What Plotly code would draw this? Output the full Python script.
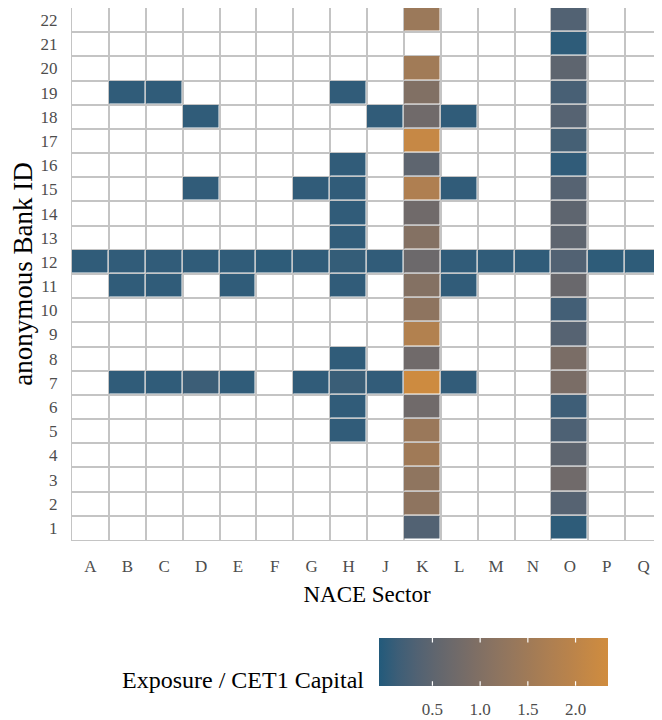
import plotly.graph_objects as go

# NACE sectors (columns) and anonymised bank ids (rows)
sectors = ["A", "B", "C", "D", "E", "F", "G", "H", "J", "K", "L", "M", "N", "O", "P", "Q"]
banks = [str(i) for i in range(1, 23)]

# exposure / CET1 capital, one list per bank (None = no exposure)
#          A     B     C     D     E     F     G     H     J     K     L     M     N     O     P     Q
bank_1 = [None, None, None, None, None, None, None, None, None, 0.35, None, None, None, 0.03, None, None]
bank_2 = [None, None, None, None, None, None, None, None, None, 1.20, None, None, None, 0.40, None, None]
bank_3 = [None, None, None, None, None, None, None, None, None, 1.22, None, None, None, 0.75, None, None]
bank_4 = [None, None, None, None, None, None, None, None, None, 1.50, None, None, None, 0.50, None, None]
bank_5 = [None, None, None, None, None, None, None, 0.05, None, 1.40, None, None, None, 0.30, None, None]
bank_6 = [None, None, None, None, None, None, None, 0.05, None, 0.75, None, None, None, 0.15, None, None]
bank_7 = [None, 0.04, 0.04, 0.13, 0.04, None, 0.05, 0.12, 0.06, 2.28, 0.06, None, None, 0.90, None, None]
bank_8 = [None, None, None, None, None, None, None, 0.04, None, 0.75, None, None, None, 0.90, None, None]
bank_9 = [None, None, None, None, None, None, None, None, None, 1.82, None, None, None, 0.40, None, None]
bank_10 = [None, None, None, None, None, None, None, None, None, 1.20, None, None, None, 0.20, None, None]
bank_11 = [None, 0.04, 0.04, None, 0.04, None, None, 0.05, None, 1.05, 0.05, None, None, 0.65, None, None]
bank_12 = [0.04, 0.05, 0.05, 0.04, 0.04, 0.03, 0.04, 0.07, 0.05, 0.70, 0.05, 0.04, 0.04, 0.35, 0.03, 0.03]
bank_13 = [None, None, None, None, None, None, None, 0.05, None, 1.05, None, None, None, 0.50, None, None]
bank_14 = [None, None, None, None, None, None, None, 0.05, None, 0.75, None, None, None, 0.50, None, None]
bank_15 = [None, None, None, 0.05, None, None, 0.05, 0.05, None, 1.75, 0.05, None, None, 0.40, None, None]
bank_16 = [None, None, None, None, None, None, None, 0.05, None, 0.50, None, None, None, 0.05, None, None]
bank_17 = [None, None, None, None, None, None, None, None, None, 2.15, None, None, None, 0.22, None, None]
bank_18 = [None, None, None, 0.04, None, None, None, None, 0.05, 0.75, 0.04, None, None, 0.40, None, None]
bank_19 = [None, 0.04, 0.04, None, None, None, None, 0.05, None, 1.00, None, None, None, 0.25, None, None]
bank_20 = [None, None, None, None, None, None, None, None, None, 1.52, None, None, None, 0.50, None, None]
bank_21 = [None, None, None, None, None, None, None, None, None, None, None, None, None, 0.03, None, None]
bank_22 = [None, None, None, None, None, None, None, None, None, 1.42, None, None, None, 0.35, None, None]

z = [bank_1, bank_2, bank_3, bank_4, bank_5, bank_6, bank_7, bank_8, bank_9, bank_10, bank_11,
     bank_12, bank_13, bank_14, bank_15, bank_16, bank_17, bank_18, bank_19, bank_20, bank_21, bank_22]

colorbar_ticks = [0.5, 1.0, 1.5, 2.0]
LOW, HIGH = "#225A7B", "#D08C3E"
ZMIN, ZMAX = -0.06, 2.34


# ggplot-style gradient: interpolate in CIELAB
def _to_lin(c):
    c = c / 255
    return c / 12.92 if c <= 0.04045 else ((c + 0.055) / 1.055) ** 2.4


def _from_lin(c):
    c = 12.92 * c if c <= 0.0031308 else 1.055 * c ** (1 / 2.4) - 0.055
    return max(0, min(255, round(c * 255)))


def hex_to_lab(h):
    r, g, b = (_to_lin(int(h[i:i + 2], 16)) for i in (1, 3, 5))
    x = (0.4124 * r + 0.3576 * g + 0.1805 * b) / 0.95047
    y = 0.2126 * r + 0.7152 * g + 0.0722 * b
    zz = (0.0193 * r + 0.1192 * g + 0.9505 * b) / 1.08883
    f = lambda t: t ** (1 / 3) if t > 0.008856 else 7.787 * t + 16 / 116
    fx, fy, fz = f(x), f(y), f(zz)
    return 116 * fy - 16, 500 * (fx - fy), 200 * (fy - fz)


def lab_to_hex(L, a, b):
    fy = (L + 16) / 116
    fx, fz = fy + a / 500, fy - b / 200
    g = lambda t: t ** 3 if t ** 3 > 0.008856 else (t - 16 / 116) / 7.787
    x, y, zz = g(fx) * 0.95047, g(fy), g(fz) * 1.08883
    r = 3.2406 * x - 1.5372 * y - 0.4986 * zz
    gg = -0.9689 * x + 1.8758 * y + 0.0415 * zz
    bb = 0.0557 * x - 0.2040 * y + 1.0570 * zz
    return "#%02x%02x%02x" % (_from_lin(r), _from_lin(gg), _from_lin(bb))


lo, hi = hex_to_lab(LOW), hex_to_lab(HIGH)
n = 12
colorscale = [[i / n, lab_to_hex(*[lo[k] + (hi[k] - lo[k]) * i / n for k in range(3)])] for i in range(n + 1)]

font = "Liberation Serif"

# the page body adds an 8px margin, so the figure is 8px smaller than the window
W, H = 654, 712
L, B = 64, 175
pw, ph = W - L, H - B

# colour bar box (figure pixels)
CB_X, CB_TOP, CB_LEN, CB_THICK = 371, 636, 229, 48

fig = go.Figure(
    go.Heatmap(
        x=sectors,
        y=banks,
        z=z,
        zmin=ZMIN,
        zmax=ZMAX,
        colorscale=colorscale,
        xgap=1.5,
        ygap=1.5,
        hoverongaps=False,
        colorbar=dict(
            orientation="h",
            x=(CB_X - L) / pw,
            xanchor="left",
            y=(ph - CB_TOP) / ph,
            yanchor="top",
            len=CB_LEN,
            lenmode="pixels",
            thickness=CB_THICK,
            thicknessmode="pixels",
            xpad=0,
            ypad=0,
            outlinewidth=0,
            tickvals=colorbar_ticks,
            ticktext=["0.5", "1.0", "1.5", "2.0"],
            ticks="outside",
            ticklen=9,
            tickcolor="rgba(0,0,0,0)",
            tickfont=dict(family=font, size=17, color="#4d4d4d"),
        ),
    )
)

# white tick marks inside the colour bar, top and bottom (ggplot style),
# drawn as arrow-only annotations so they sit above the bar
for v in colorbar_ticks:
    xp = (CB_X + (v - ZMIN) / (ZMAX - ZMIN) * CB_LEN - L) / pw
    for yy, ay in ((CB_TOP, 6), (CB_TOP + CB_THICK, -6)):
        fig.add_annotation(
            x=xp,
            y=(ph - yy) / ph,
            xref="paper",
            yref="paper",
            text="",
            showarrow=True,
            arrowhead=0,
            arrowwidth=1.2,
            arrowcolor="white",
            ax=0,
            ay=ay,
            standoff=0,
            startstandoff=0,
        )

axis_common = dict(
    type="category",
    automargin=False,
    tickson="boundaries",
    showgrid=True,
    gridcolor="#c4c4c4",
    gridwidth=1.5,
    showline=True,
    linecolor="#c4c4c4",
    linewidth=1,
    mirror=True,
    ticks="outside",
    tickcolor="rgba(0,0,0,0)",
    tickfont=dict(family=font, size=17, color="#4d4d4d"),
)

fig.update_xaxes(
    **axis_common,
    categoryorder="array",
    categoryarray=sectors,
    ticklen=15,
    ticklabelstandoff=11,
    title=dict(text="NACE Sector", font=dict(family=font, size=23, color="black"), standoff=10),
)
fig.update_yaxes(
    **axis_common,
    categoryorder="array",
    categoryarray=banks,
    ticklen=11,
    ticklabelstandoff=10,
    title=dict(text="anonymous Bank ID", font=dict(family=font, size=27, color="black"), standoff=13),
)

fig.add_annotation(
    text="Exposure / CET1 Capital",
    xref="paper",
    yref="paper",
    x=(358 - L) / pw,
    y=(ph - 678) / ph,
    xanchor="right",
    yanchor="middle",
    showarrow=False,
    font=dict(family=font, size=24, color="black"),
)

fig.update_layout(
    width=W,
    height=H,
    margin=dict(l=L, r=0, t=0, b=B),
    plot_bgcolor="white",
    paper_bgcolor="white",
    font=dict(family=font),
)

fig.write_html("out.html")
